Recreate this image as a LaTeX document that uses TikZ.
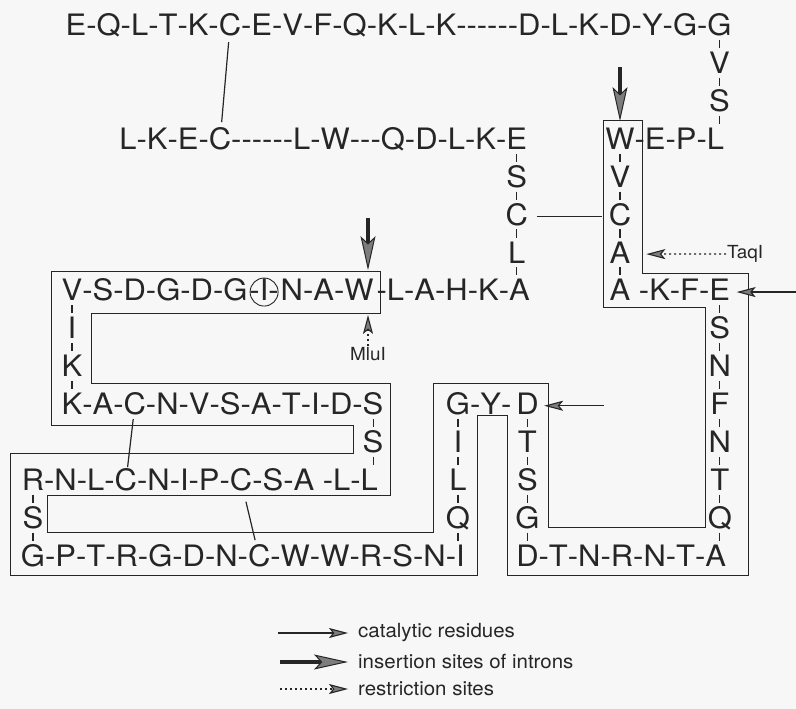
\documentclass[tikz,border=0pt]{standalone}
\usepackage{fontspec}
\setmainfont{TeX Gyre Heros}[FakeStretch=1.05]
\usetikzlibrary{arrows.meta,positioning,calc}
\colorlet{ink}{black!85}
\colorlet{paper}{black!3}
\newcommand\hh{-\kern0pt}

% a run of residues written left to right, hyphens as text
\newcommand\resrow[3]{%
  \foreach \s/\l [count=\i] in {#3}{%
    \ifnum\i=1
      \node[aa, anchor=base] (#1-1) at (#2) {\l};
    \else
      \node[aa, anchor=base west] (#1-s\i) at (\lastres.base east) {\s};
      \node[aa, anchor=base west] (#1-\i) at (#1-s\i.base east) {\l};
    \fi
    \xdef\lastres{#1-\i}}}
% a column of residues hanging from #2 and ending on #3
\newcommand\rescol[4]{%
  \xdef\lastres{#2}%
  \foreach \l/\k [count=\i] in {#4}{%
    \pgfmathsetmacro\yb{35.6+37.9*\k}%
    \node[aa, anchor=base] (#1-\i) at (#2 |- 0,\yb) {\l};
    \draw[bondtick] (\lastres.south) -- (\lastres.south |- #1-\i.north);
    \xdef\lastres{#1-\i}}%
  \draw[bondtick] (\lastres.south) -- (\lastres.south |- #3.north);}

\begin{document}
\begin{tikzpicture}[
  x=1pt, y=-1pt,
  aa/.style={font=\fontsize{29.5}{30}\selectfont, inner sep=0pt, outer sep=0pt,
             text height=21.2pt, text depth=3.5pt, text=ink},
  bondtick/.style={draw=ink, line width=1.1pt, shorten <=0.8pt, shorten >=4.3pt},
  sbond/.style={draw=ink, line width=1.2pt},
  band/.style={draw=ink, line width=1pt},
  ring/.style={circle, draw=ink, line width=0.9pt, minimum size=28pt, inner sep=0pt},
  site/.style={font=\fontsize{18}{20}\selectfont, text=ink, inner sep=1pt},
  legend/.style={font=\fontsize{19.5}{22}\selectfont, text=ink, inner sep=0pt},
  catal/.style={draw=ink, line width=1.2pt,
                -{Stealth[length=19pt, width=10pt, inset=4pt, fill=ink!60, line width=1.1pt]}},
  restr/.style={catal, dash pattern=on 2pt off 3pt},
  intron/.style={draw=ink, line width=4.5pt,
                 -{Stealth[length=34pt, width=15pt, inset=7pt, fill=ink!60, line width=1pt]}}
]
\fill[paper] (0,0) rectangle (796,709);
\useasboundingbox (0,0) rectangle (796,709);

\resrow{top}{76,35.6}{/E,-/Q,-/L,-/T,-/K,-/C,-/E,-/V,-/F,-/Q,-/K,-/L,-/K,\hh\hh\hh\hh\hh-/D,-/L,-/K,-/D,-/Y,-/G,-/G}
\resrow{sec}{128,149.3}{/L,-/K,-/E,-/C,\hh\hh\hh\hh\hh-/L,-/W,\hh\hh-/Q,-/D,-/L,-/K,-/E}
\resrow{wepl}{620,149.3}{/W,-/E,-/P,-/L}
\resrow{akfe}{wepl-1 |- 0,300.9}{/A,~-/K,-/F,-/E}
\resrow{vsd}{72,300.9}{/V,-/S,-/D,-/G,-/D,-/G,\kern2pt-/I,-\kern2pt/N,-/A,-/W,\kern3pt-/L,-/A,-/H,-/K,-/A}
\resrow{kac}{vsd-1 |- 0,414.6}{/K,-/A,-/C,-/N,-/V,-/S,-/A,-/T,-/I,-/D,-/S}
\resrow{gyd}{458,414.6}{/G,-/Y,-\,/D}
\resrow{rnl}{33,490.4}{/R,-/N,-/L,-/C,-/N,-/I,-/P,-/C,-/S,-/A,~-/L,-/L}
\resrow{gpt}{rnl-1 |- 0,566.2}{/G,-/P,-/T,-/R,-/G,-/D,-/N,-/C,-/W,-/W,-/R,-/S,-/N,-/I}
\resrow{dtn}{gyd-3 |- 0,566.2}{/D,-/T,-/N,-/R,-/N,-/T,-/A}

\rescol{gvs}{top-20}{wepl-4}{V/1,S/2}
\rescol{esc}{sec-11}{vsd-15}{S/4,C/5,L/6}
\rescol{wvc}{wepl-1}{akfe-1}{V/4,C/5,A/6}
\rescol{esn}{akfe-4}{dtn-7}{S/8,N/9,F/10,N/11,T/12,Q/13}
\rescol{dts}{gyd-3}{dtn-1}{T/11,S/12,G/13}
\rescol{gil}{gyd-1}{gpt-14}{I/11,L/12,Q/13}
\rescol{rsg}{rnl-1}{gpt-1}{S/13}
\rescol{sss}{kac-11}{rnl-12}{S/11}
\rescol{vik}{vsd-1}{kac-1}{I/8,K/9}

\draw[band] (603,121) -- (603,307) -- (705,307) -- (705,527) -- (548,527)
  -- (548,383) -- (433,383) -- (433,532) -- (47,532) -- (47,495) -- (390,495)
  -- (390,383) -- (91,383) -- (91,313) -- (380,313) -- (380,271) -- (51,271)
  -- (51,425) -- (353,425) -- (353,453) -- (10,453) -- (10,575) -- (477,575)
  -- (477,415) -- (507,415) -- (507,575) -- (748,575) -- (748,273) -- (642,273)
  -- (642,121) -- cycle;

\draw[sbond, shorten <=3pt, shorten >=6pt] (top-6) -- (sec-4);
\draw[sbond, shorten <=9pt, shorten >=7pt] (esc-2) -- (wvc-2);
\draw[sbond, shorten <=1pt, shorten >=2pt] (kac-3) -- (rnl-4);
\draw[sbond, shorten <=8pt, shorten >=5pt] (rnl-8) -- (gpt-8);
\node[ring] (ringI) at (vsd-7) {};

\coordinate (hin1) at (wepl-1 |- 0,67);
\coordinate (hin2) at ([xshift=9pt]vsd-10 |- 0,218);
\draw[intron, shorten >=7pt] (hin1) -- (wepl-1);
\draw[intron, shorten >=9.5pt] (hin2) -- (hin2 |- vsd-10.north);
\coordinate (cat1) at ([xshift=66pt]akfe-4.east);
\coordinate (cat2) at ([xshift=65pt]gyd-3.east);
\draw[catal, shorten >=6.5pt] (cat1) -- (akfe-4);
\draw[catal, shorten >=5.5pt] (cat2) -- (gyd-3);
\node[site, anchor=west] (taq) at (726,254) {TaqI};
\node[site, anchor=north] (mlu) at (hin2 |- 0,346) {MluI};
\draw[restr, shorten >=16pt] (taq) -- (wvc-3);
\draw[restr, shorten >=10.5pt] (mlu) -- (mlu |- vsd-10.south);

\node[legend, anchor=west] (lcat) at (358,633) {catalytic residues};
\node[legend, anchor=west] (lint) at (358,662) {insertion sites of introns};
\node[legend, anchor=west] (lres) at (358,689) {restriction sites};
\coordinate (kcat) at (278,633);
\coordinate (kint) at (280,662);
\coordinate (kres) at (280,689);
\draw[catal, shorten >=10pt] (kcat) -- (lcat);
\draw[intron, shorten >=10pt] (kint) -- (lint);
\draw[restr, shorten >=10pt] (kres) -- (lres);
\end{tikzpicture}
\end{document}
